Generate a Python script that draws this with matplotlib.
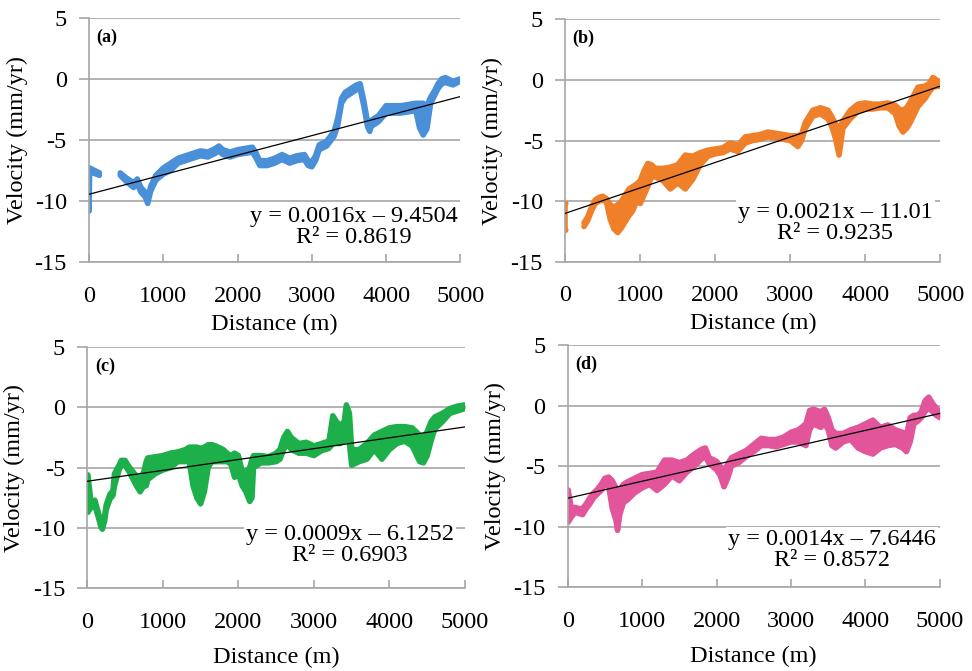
import numpy as np
import matplotlib
matplotlib.use("Agg")
import matplotlib.pyplot as plt

plt.rcParams["font.family"] = ["Liberation Serif", "DejaVu Serif"]
plt.rcParams["axes.unicode_minus"] = False

# (a) velocity profile: distance, lower and upper edge of the point cloud
dist_a = [0, 8, 140, 145, 420, 500, 600, 650, 700, 760, 790, 830, 900, 1000, 1100, 1200,
          1300, 1400, 1500, 1600, 1700, 1750, 1800, 1900, 2000, 2100, 2200, 2250, 2300,
          2400, 2500, 2600, 2700, 2800, 2900, 2950, 3000, 3050, 3100, 3200, 3250, 3300,
          3350, 3400, 3450, 3500, 3600, 3650, 3700, 3750, 3780, 3800, 3900, 4000, 4100,
          4200, 4300, 4400, 4450, 4500, 4550, 4600, 4650, 4700, 4750, 4800, 4900, 5000]
lo_a = [-10.8, -7.6, -7.9, np.nan, -7.9, -8.4, -8.9, -8.6, -9.3, -9.7, -10.2, -9.2, -8.3,
        -7.8, -7.5, -6.9, -6.7, -6.5, -6.3, -6.4, -6.1, -5.9, -6.2, -6.4, -6.2, -6.1, -6.0,
        -6.5, -7.1, -7.1, -6.9, -6.6, -6.9, -6.7, -6.6, -7.1, -7.2, -6.7, -5.8, -5.5, -5.1,
        -4.7, -3.8, -2.0, -1.5, -1.3, -0.9, -0.8, -2.2, -3.9, -4.3, -3.9, -3.5, -2.8, -2.8,
        -2.8, -2.7, -2.6, -4.0, -4.6, -4.1, -2.0, -1.4, -0.8, -0.4, -0.3, -0.5, -0.2]
hi_a = [-7.3, -7.3, -7.7, np.nan, -7.7, -8.1, -8.5, -8.2, -8.9, -9.3, -9.9, -8.8, -7.9,
        -7.3, -6.9, -6.5, -6.3, -6.1, -5.9, -6.0, -5.7, -5.5, -5.8, -6.0, -5.8, -5.7, -5.6,
        -6.1, -6.7, -6.7, -6.5, -6.2, -6.5, -6.3, -6.2, -6.7, -6.8, -6.3, -5.4, -5.1, -4.7,
        -4.3, -3.2, -1.6, -1.1, -0.9, -0.5, -0.4, -1.8, -3.5, -3.9, -3.4, -3.0, -2.2, -2.2,
        -2.2, -2.1, -2.0, -2.0, -2.0, -2.2, -1.5, -1.0, -0.4, 0.0, 0.1, -0.2, 0.0]

# (b)
dist_b = [0, 8, 20, 250, 300, 350, 400, 450, 500, 550, 600, 650, 700, 750, 800, 850, 900,
          950, 1000, 1050, 1100, 1150, 1200, 1300, 1400, 1500, 1600, 1700, 1800, 1900, 2000,
          2100, 2200, 2300, 2400, 2500, 2600, 2700, 2800, 2900, 3000, 3100, 3150, 3200, 3300,
          3400, 3500, 3550, 3600, 3650, 3700, 3800, 3900, 4000, 4100, 4200, 4300, 4400, 4450,
          4500, 4550, 4600, 4700, 4800, 4850, 4900, 5000]
lo_b = [-12.4, -12.4, np.nan, -12.1, -11.6, -10.8, -10.2, -10.0, -9.9, -10.1, -11.5, -12.3,
        -12.6, -12.2, -11.7, -11.2, -10.8, -10.0, -10.2, -9.5, -8.8, -8.0, -8.0, -8.3, -9.0,
        -8.5, -9.0, -8.2, -7.0, -6.3, -6.1, -6.0, -5.7, -5.9, -5.2, -5.0, -4.9, -4.7, -4.8,
        -4.9, -5.0, -5.5, -5.0, -4.0, -3.0, -2.8, -3.2, -3.8, -4.8, -6.2, -4.0, -3.2, -2.6,
        -2.4, -2.4, -2.3, -2.3, -2.8, -3.8, -4.3, -4.0, -3.5, -2.2, -1.5, -1.0, -0.6, -0.5]
hi_b = [-10.2, -10.2, np.nan, -11.8, -11.3, -10.5, -9.9, -9.7, -9.6, -9.8, -10.3, -10.5,
        -10.3, -10.0, -9.5, -9.0, -8.8, -8.6, -8.3, -7.5, -6.9, -7.0, -7.3, -7.3, -7.2, -7.0,
        -6.2, -6.3, -6.0, -5.8, -5.7, -5.6, -5.2, -5.4, -4.7, -4.6, -4.5, -4.3, -4.4, -4.5,
        -4.6, -4.6, -4.5, -3.5, -2.5, -2.3, -2.5, -3.0, -3.6, -4.0, -3.4, -2.5, -2.0, -1.9,
        -2.0, -2.0, -1.9, -2.1, -2.4, -2.5, -2.3, -1.8, -0.6, -0.5, -0.3, 0.2, -0.2]

# (c)
dist_c = [0, 8, 50, 100, 150, 180, 200, 230, 250, 300, 340, 360, 420, 450, 500, 550, 600,
          650, 700, 750, 780, 800, 900, 1000, 1100, 1200, 1300, 1350, 1400, 1450, 1500, 1550,
          1600, 1650, 1700, 1800, 1850, 1900, 1950, 2000, 2050, 2100, 2150, 2180, 2200, 2300,
          2400, 2500, 2550, 2600, 2650, 2700, 2800, 2900, 3000, 3100, 3200, 3250, 3300, 3350,
          3400, 3430, 3470, 3500, 3600, 3700, 3800, 3900, 4000, 4100, 4200, 4300, 4400, 4450,
          4500, 4550, 4600, 4700, 4800, 4900, 5000]
lo_c = [-8.7, -8.7, -8.3, -8.1, -9.2, -9.9, -10.1, -9.4, -8.5, -7.6, -7.3, -6.5, -5.2,
        -4.8, -4.8, -5.3, -5.9, -6.5, -7.0, -6.5, -6.5, -6.0, -5.5, -5.2, -5.0, -4.5, -4.5,
        -4.5, -6.5, -7.5, -8.0, -7.0, -5.0, -4.5, -4.5, -4.5, -4.5, -4.7, -5.8, -5.5, -6.5,
        -7.0, -7.8, -7.5, -5.0, -4.6, -4.6, -4.5, -4.3, -3.5, -3.0, -3.5, -3.8, -3.8, -4.0,
        -3.6, -3.4, -3.0, -3.0, -3.0, -2.8, -2.5, -3.0, -4.8, -4.5, -4.3, -3.5, -4.3, -3.5,
        -3.0, -2.8, -3.2, -4.5, -4.6, -4.0, -2.8, -1.8, -1.2, -0.5, -0.3, -0.1]
hi_c = [-5.6, -5.6, -7.9, -7.7, -8.8, -9.5, -9.7, -9.0, -8.1, -7.2, -6.9, -5.5, -4.8,
        -4.4, -4.4, -4.9, -5.3, -5.7, -6.0, -5.3, -4.5, -4.2, -4.1, -4.0, -3.8, -3.7, -3.5,
        -3.3, -3.3, -3.3, -3.4, -3.3, -3.1, -3.1, -3.2, -3.5, -3.8, -4.0, -3.8, -4.0, -5.3,
        -5.3, -5.0, -4.3, -4.0, -4.0, -4.1, -3.8, -3.5, -2.5, -2.0, -2.5, -3.0, -2.9, -3.2,
        -3.0, -2.8, -0.7, -1.2, -1.5, -1.2, 0.2, -0.5, -3.5, -3.5, -3.0, -2.3, -2.0, -1.7,
        -1.6, -1.6, -1.7, -2.3, -2.5, -2.0, -1.2, -0.8, -0.5, -0.1, 0.1, 0.2]

# (d)
dist_d = [0, 8, 50, 100, 150, 200, 250, 300, 350, 400, 450, 500, 550, 600, 650, 670, 700,
          750, 800, 900, 1000, 1100, 1200, 1300, 1400, 1500, 1600, 1700, 1800, 1850, 1900,
          2000, 2050, 2100, 2150, 2200, 2300, 2400, 2500, 2600, 2700, 2800, 2900, 3000, 3100,
          3200, 3250, 3300, 3400, 3450, 3500, 3550, 3600, 3700, 3800, 3900, 4000, 4100, 4200,
          4300, 4400, 4500, 4550, 4600, 4650, 4700, 4750, 4800, 4850, 4900, 4950, 5000]
lo_d = [-9.6, -9.6, -9.2, -8.8, -8.9, -9.0, -8.5, -8.1, -7.6, -7.3, -7.0, -6.5, -6.6,
        -8.5, -9.5, -10.3, -9.0, -8.0, -7.8, -7.2, -6.8, -6.5, -7.0, -6.5, -5.8, -6.2, -5.5,
        -5.0, -4.4, -4.2, -4.8, -5.3, -5.8, -6.7, -6.0, -5.0, -4.7, -4.2, -3.8, -3.3, -3.3,
        -3.4, -3.2, -3.0, -3.0, -3.3, -2.0, -1.5, -1.8, -1.5, -2.0, -3.3, -3.5, -3.0, -2.8,
        -3.5, -3.8, -4.0, -3.5, -3.3, -3.2, -3.5, -3.8, -3.0, -1.5, -1.3, -1.0, -0.5, -0.2,
        -0.5, -0.8, -1.0]
hi_d = [-7.0, -7.0, -8.5, -8.4, -8.5, -8.5, -8.1, -7.6, -7.2, -6.9, -6.5, -6.0, -5.9,
        -6.2, -6.8, -7.5, -6.9, -6.5, -6.3, -6.0, -5.7, -5.6, -5.5, -4.5, -4.5, -4.7, -4.5,
        -4.0, -3.6, -3.5, -4.3, -4.6, -5.0, -5.5, -4.8, -4.3, -4.0, -3.7, -3.2, -2.7, -2.8,
        -2.8, -2.6, -2.2, -2.0, -1.5, -0.4, -0.3, -0.5, -0.3, -1.0, -2.0, -2.3, -2.3, -2.0,
        -1.8, -1.5, -1.2, -1.8, -1.6, -2.0, -2.2, -2.5, -1.0, -0.8, -0.8, -0.5, 0.4, 0.7,
        0.2, -0.2, -0.5]

panel_labels = ["(a)", "(b)", "(c)", "(d)"]
slopes = [0.0016, 0.0021, 0.0009, 0.0014]
intercepts = [-9.4504, -11.01, -6.1252, -7.6446]
eq_texts = ["y = 0.0016x \u2013 9.4504\nR\u00b2 = 0.8619",
            "y = 0.0021x \u2013 11.01\nR\u00b2 = 0.9235",
            "y = 0.0009x \u2013 6.1252\nR\u00b2 = 0.6903",
            "y = 0.0014x \u2013 7.6446\nR\u00b2 = 0.8572"]
eq_pos = [(3570, -12.1), (3600, -11.8), (3480, -11.4), (3555, -11.9)]
colors = ["#4A90D9", "#F07F2A", "#1DAF4A", "#E2559B"]

profiles = [(dist_a, lo_a, hi_a), (dist_b, lo_b, hi_b),
            (dist_c, lo_c, hi_c), (dist_d, lo_d, hi_d)]

# axes rectangles in figure fractions [left, bottom, width, height]
rects = [[0.0916, 0.6095, 0.382, 0.3640],
         [0.5815, 0.6100, 0.386, 0.3612],
         [0.0898, 0.1232, 0.3886, 0.3597],
         [0.5840, 0.1247, 0.3830, 0.3611]]
xlabel_pads = [5, 5, 10, 10]

fig = plt.figure(figsize=(9.72, 6.71), dpi=100)
grid_c = "#A6A6A6"
fs = 17.5

for i in range(4):
    ax = fig.add_axes(rects[i])
    x, lo, hi = [np.array(v, dtype=float) for v in profiles[i]]
    ax.fill_between(x, lo, hi, color=colors[i], lw=0, zorder=2)
    ax.plot(x, lo, color=colors[i], lw=4, solid_capstyle="round", zorder=2)
    ax.plot(x, hi, color=colors[i], lw=4, solid_capstyle="round", zorder=2)
    # points stacked at distance 0
    ax.plot([x[0], x[0]], [lo[0], hi[0]], color=colors[i], lw=4,
            solid_capstyle="round", zorder=2)

    xl = np.array([0, 5000])
    ax.plot(xl, slopes[i] * xl + intercepts[i], color="black", lw=0.9, zorder=3)

    ax.text(eq_pos[i][0], eq_pos[i][1], eq_texts[i], ha="center", va="center",
            multialignment="center", fontsize=fs, linespacing=1.0, zorder=4,
            bbox=dict(facecolor="white", edgecolor="none", pad=1.5))
    ax.text(100, 3.4, panel_labels[i], fontsize=13, fontweight="bold",
            ha="left", va="center", zorder=4)

    ax.set_xlim(0, 5000)
    ax.set_ylim(-15, 5)
    ax.set_xticks(range(0, 5001, 1000))
    ax.set_yticks(range(-15, 6, 5))
    ax.yaxis.grid(True, color=grid_c, lw=1.2, zorder=0)
    ax.set_axisbelow(True)
    for s in ["top", "right"]:
        ax.spines[s].set_visible(False)
    for s in ["left", "bottom"]:
        ax.spines[s].set_color(grid_c)
        ax.spines[s].set_linewidth(1.2)
    ax.tick_params(axis="x", direction="in", length=6, color=grid_c, width=1.2,
                   labelsize=fs, pad=17)
    ax.tick_params(axis="y", direction="out", length=7, color=grid_c, width=1.2,
                   labelsize=fs, pad=9)
    ax.set_xlabel("Distance (m)", fontsize=fs, labelpad=xlabel_pads[i])
    ax.set_ylabel("Velocity (mm/yr)", fontsize=fs)
    ax.yaxis.set_label_coords(-0.165, 0.5)

fig.savefig("out.png", dpi=100)
